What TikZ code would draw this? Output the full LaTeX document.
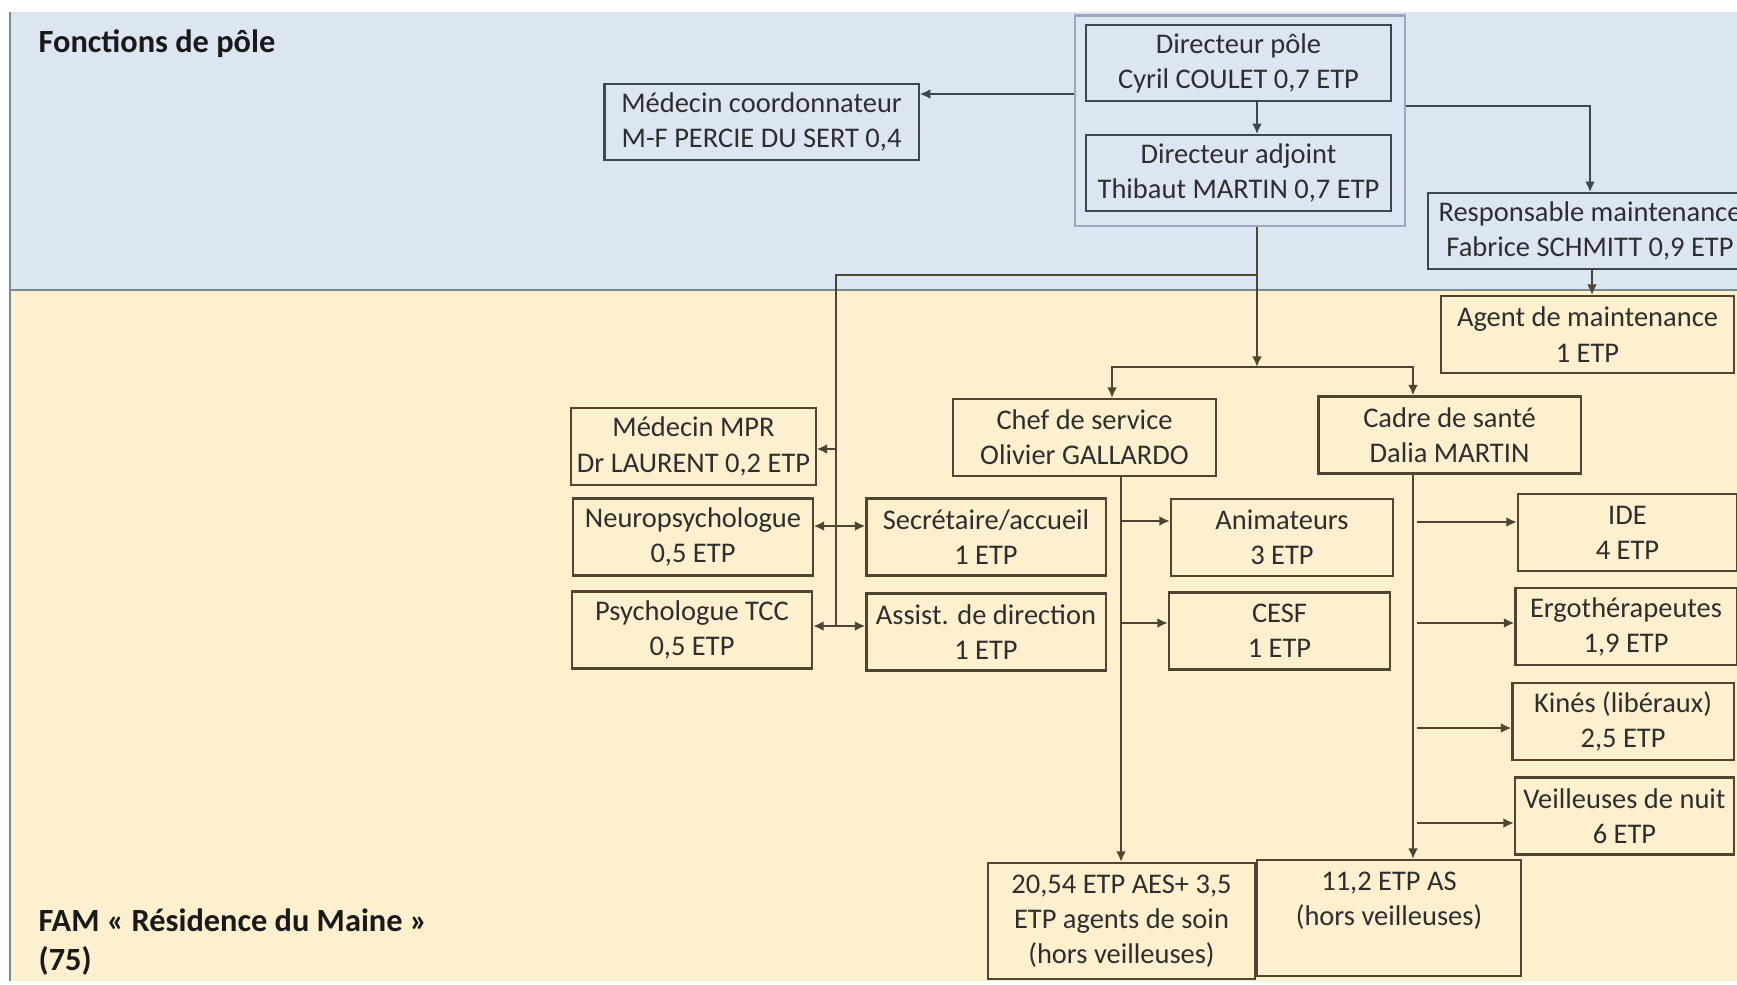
\documentclass[tikz,border=0pt]{standalone}
\usepackage{fontspec}
\setmainfont{Carlito}
\usetikzlibrary{arrows.meta}
\definecolor{bandblue}{HTML}{DCE6F2}
\definecolor{bandsand}{HTML}{FDF0CF}
\definecolor{inkgray}{HTML}{3E4652}
\definecolor{inkbrown}{HTML}{4F4532}
\definecolor{grpline}{HTML}{9AA8BA}
\definecolor{sepline}{HTML}{7C8A90}

\begin{document}
\begin{tikzpicture}[x=0.01cm,y=-0.01cm,>={Latex[length=3pt,width=2.8pt]},
  every node/.style={font=\fontsize{8.1}{10}\selectfont,text=black!82},
  box/.style={draw=inkbrown,line width=.6pt,align=center,inner sep=0pt,minimum height=.77cm},
  topbox/.style={box,draw=inkgray,minimum height=.755cm},
  link/.style={draw=inkbrown,line width=.6pt},
  toplink/.style={draw=inkgray,line width=.6pt},
  zone/.style={font=\bfseries\fontsize{9.2}{11.1}\selectfont,text=black!90,align=left,inner sep=0pt}]
\useasboundingbox (0,0) rectangle (1737,984);
\clip (0,0) rectangle (1737,984);
\fill[bandblue] (10,12) rectangle (1737,290);
\fill[bandsand] (10,290) rectangle (1737,981);
\draw[sepline,line width=.6pt] (10,12) -- (10,981) (10,290) -- (1737,290);

\node[zone,anchor=west] (ztop) at (38,44) {Fonctions de pôle};
\node[zone,anchor=west] (zbot) at (38,942) {FAM « Résidence du Maine »\\(75)};

\node[draw=grpline,line width=.6pt,inner sep=0pt,minimum width=3.30cm,minimum height=2.105cm] (dirgroup) at (1239.7,120.8) {};
\node[topbox,minimum width=3.04cm] (dirpole) at (1238.5,63) {Directeur pôle\\Cyril COULET 0,7 ETP};
\node[topbox,minimum width=3.04cm] (diradj) at (1238.5,173) {Directeur adjoint\\Thibaut MARTIN 0,7 ETP};
\node[topbox,minimum width=3.14cm] (medcoord) at (761.6,122) {Médecin coordonnateur\\M-F PERCIE DU SERT 0,4};
\node[topbox,minimum width=3.24cm] (respmaint) at (1590,231) {Responsable maintenance\\Fabrice SCHMITT 0,9 ETP};

\node[box,minimum width=2.93cm] (agentmaint) at (1587.5,334.6) {Agent de maintenance\\1 ETP};
\node[box,minimum width=2.62cm] (chef) at (1084.5,437.6) {Chef de service\\Olivier GALLARDO};
\node[box,minimum width=2.62cm] (cadre) at (1449.5,435) {Cadre de santé\\Dalia MARTIN};
\node[box,minimum width=2.44cm] (medmpr) at (693.5,446.5) {Médecin MPR\\Dr LAURENT 0,2 ETP};
\node[box,minimum width=2.39cm] (neuro) at (693,537) {Neuropsychologue\\0,5 ETP};
\node[box,minimum width=2.40cm] (psycho) at (692,630) {Psychologue TCC\\0,5 ETP};
\node[box,minimum width=2.39cm] (secr) at (986,537) {Secrétaire/accueil\\1 ETP};
\node[box,minimum width=2.39cm] (assist) at (986,632) {Assist. de direction\\1 ETP};
\node[box,minimum width=2.22cm] (anim) at (1282,537.5) {Animateurs\\3 ETP};
\node[box,minimum width=2.21cm] (cesf) at (1279.5,631) {CESF\\1 ETP};
\node[box,minimum width=2.19cm] (ide) at (1627.5,532.5) {IDE\\4 ETP};
\node[box,minimum width=2.21cm] (ergo) at (1626,626.5) {Ergothérapeutes\\1,9 ETP};
\node[box,minimum width=2.21cm] (kines) at (1623,721.5) {Kinés (libéraux)\\2,5 ETP};
\node[box,minimum width=2.19cm] (veill) at (1624.5,816) {Veilleuses de nuit\\6 ETP};
\node[box,minimum width=2.67cm,minimum height=1.16cm] (aes) at (1121.5,921) {20,54 ETP AES+ 3,5\\ETP agents de soin\\(hors veilleuses)};
\node[box,minimum width=2.64cm,minimum height=1.16cm] (as) at (1389,918) {11,2 ETP AS\\(hors veilleuses)\\\phantom{(}};

\coordinate (trunk) at (1257,0);
\coordinate (fork) at (1257,275);
\coordinate (hub) at (1257,367);
\coordinate (lspine) at (836,0);
\coordinate (cspine) at (1121,0);
\coordinate (sspine) at (1417,0);

\draw[toplink,->] (dirgroup.west |- 0,94) -- (medcoord.east |- 0,94);
\draw[toplink,->] (dirpole.south -| trunk) -- (diradj.north -| trunk);
\draw[toplink,->] (dirgroup.east |- 0,106) -| (respmaint.north);
\draw[link,->] (respmaint.south -| 1592,0) -- (agentmaint.north -| 1592,0);

\draw[link,->] (dirgroup.south -| trunk) -- (hub);
\draw[link,<->] (chef.north -| 1112,0) |- (hub -| 1413,0) -- (cadre.north -| 1413,0);

\draw[link] (fork) -| (lspine |- 0,626);
\draw[link,->] (lspine |- 0,449) -- (medmpr.east |- 0,449);
\draw[link,<->] (neuro.east |- 0,526) -- (secr.west |- 0,526);
\draw[link,<->] (psycho.east |- 0,626) -- (assist.west |- 0,626);

\draw[link,->] (chef.south -| cspine) -- (aes.north -| cspine);
\foreach \n/\y in {anim/521,cesf/623} \draw[link,->] (cspine |- 0,\y) -- (\n.west |- 0,\y);
\draw[link,->] (cadre.south -| 1413,0) -- (as.north -| 1413,0);
\foreach \n/\y in {ide/522,ergo/623,kines/728,veill/823} \draw[link,->] (sspine |- 0,\y) -- (\n.west |- 0,\y);
\end{tikzpicture}
\end{document}
